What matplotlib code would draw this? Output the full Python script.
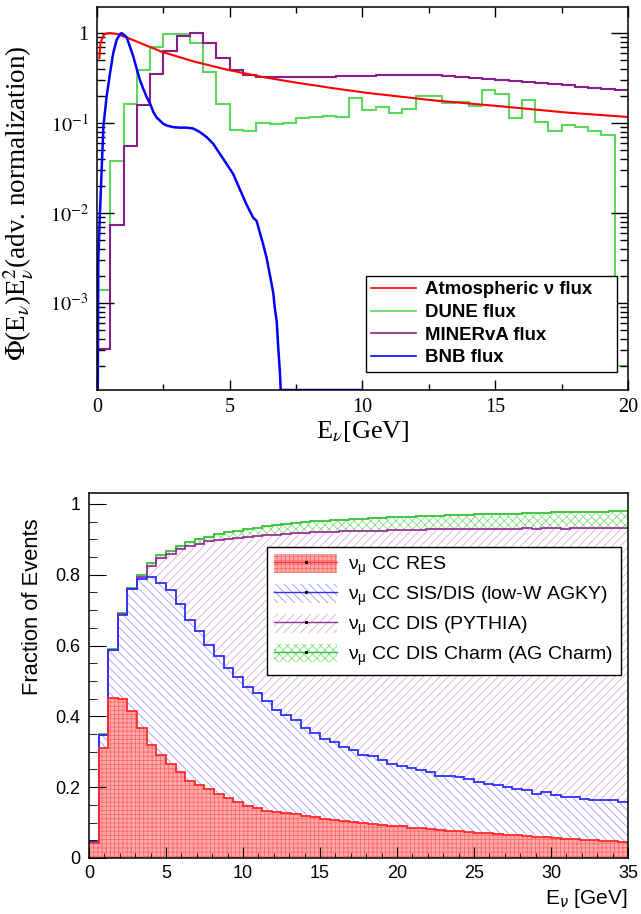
import numpy as np
import matplotlib
matplotlib.use('Agg')
import matplotlib.pyplot as plt
from matplotlib.lines import Line2D
from matplotlib.patches import Patch
from matplotlib.ticker import MultipleLocator, LogLocator, FuncFormatter, NullFormatter

plt.rcParams['font.family'] = ['Liberation Sans', 'DejaVu Sans']
plt.rcParams['hatch.linewidth'] = 0.6

# ---- flux panel (0.5 GeV bins, 0-20 GeV) ----
flux_edges = np.linspace(0, 20, 41)
dune_flux = [1.4e-3, 0.038, 0.165, 0.39, 0.71, 0.99, 0.99, 0.773, 0.372, 0.165,
             0.083, 0.081, 0.101, 0.097, 0.101, 0.113, 0.117, 0.119, 0.116, 0.190,
             0.139, 0.151, 0.131, 0.144, 0.199, 0.199, 0.169, 0.172, 0.154, 0.236,
             0.209, 0.114, 0.179, 0.103, 0.081, 0.096, 0.090, 0.081, 0.073, 2.0e-4]
minerva_flux = [3.1e-4, 7.4e-3, 0.055, 0.160, 0.348, 0.634, 0.933, 1.0, 0.773, 0.525,
                0.389, 0.342, 0.327, 0.322, 0.322, 0.323, 0.325, 0.325, 0.330, 0.336,
                0.336, 0.342, 0.345, 0.345, 0.339, 0.339, 0.333, 0.327, 0.319, 0.311,
                0.301, 0.295, 0.288, 0.278, 0.271, 0.264, 0.255, 0.246, 0.240, 0.236]
bnb_energy = [0.03, 0.05, 0.11, 0.24, 0.36, 0.49, 0.61, 0.74, 0.87, 0.93, 0.99, 1.12,
              1.24, 1.37, 1.49, 1.62, 1.74, 1.87, 2.0, 2.12, 2.25, 2.38, 2.5, 2.63,
              2.88, 3.13, 3.38, 3.63, 3.88, 4.13, 4.38, 4.63, 4.88, 5.13, 5.38, 5.63,
              5.88, 6.01, 6.26, 6.39, 6.51, 6.64, 6.70, 6.77, 6.83, 6.89, 6.92, 10.0]
bnb_flux = [0.0, 3.0e-3, 0.0097, 0.090, 0.195, 0.357, 0.597, 0.84, 0.98, 1.0, 0.97, 0.90,
            0.708, 0.548, 0.406, 0.30, 0.242, 0.195, 0.165, 0.133, 0.115, 0.106, 0.098, 0.094,
            0.090, 0.089, 0.089, 0.087, 0.0794, 0.0699, 0.0588, 0.0455, 0.0352, 0.0272, 0.0184, 0.0125,
            0.0089, 0.0082, 0.00448, 0.00317, 0.00207, 0.00129, 8.7e-4, 6.2e-4, 3.1e-4, 1.7e-4, 0.0, 0.0]
atm_energy = [0.09, 0.13, 0.25, 0.38, 0.5, 0.75, 1.18, 2.44, 3.69, 4.94, 6.2, 7.46,
              8.95, 10.16, 12.67, 15.18, 17.69, 20.0]
atm_flux = [0.525, 0.77, 0.957, 0.995, 1.0, 0.98, 0.88, 0.62, 0.48, 0.39, 0.327, 0.283,
            0.243, 0.217, 0.179, 0.154, 0.131, 0.117]

# ---- fraction panel (0.625 GeV bins, 0-35 GeV) ----
frac_edges = np.linspace(0, 35, 57)
res_frac = [0.041, 0.311, 0.452, 0.448, 0.414, 0.366, 0.319, 0.290, 0.265, 0.242,
            0.218, 0.206, 0.194, 0.180, 0.169, 0.157, 0.148, 0.140, 0.133, 0.130,
            0.127, 0.123, 0.119, 0.115, 0.111, 0.107, 0.104, 0.102, 0.099, 0.096,
            0.093, 0.091, 0.089, 0.086, 0.085, 0.083, 0.080, 0.077, 0.076, 0.073,
            0.071, 0.070, 0.068, 0.066, 0.064, 0.062, 0.060, 0.058, 0.056, 0.055,
            0.053, 0.051, 0.050, 0.049, 0.047, 0.045]
sis_frac = [0.005, 0.036, 0.136, 0.239, 0.346, 0.421, 0.474, 0.488, 0.492, 0.476,
            0.454, 0.434, 0.407, 0.390, 0.369, 0.354, 0.334, 0.325, 0.310, 0.289,
            0.276, 0.266, 0.249, 0.238, 0.226, 0.221, 0.210, 0.202, 0.191, 0.192,
            0.185, 0.174, 0.170, 0.167, 0.163, 0.160, 0.152, 0.155, 0.153, 0.149,
            0.144, 0.139, 0.138, 0.135, 0.132, 0.130, 0.122, 0.129, 0.123, 0.118,
            0.120, 0.117, 0.115, 0.115, 0.117, 0.112]
dis_frac = [0.000, 0.001, 0.000, 0.003, 0.001, 0.006, 0.033, 0.070, 0.102, 0.155,
            0.208, 0.247, 0.294, 0.327, 0.363, 0.393, 0.425, 0.444, 0.468, 0.494,
            0.512, 0.528, 0.550, 0.567, 0.584, 0.594, 0.609, 0.619, 0.634, 0.637,
            0.647, 0.661, 0.667, 0.674, 0.679, 0.685, 0.696, 0.697, 0.699, 0.707,
            0.714, 0.721, 0.723, 0.729, 0.734, 0.739, 0.748, 0.744, 0.752, 0.757,
            0.758, 0.764, 0.766, 0.768, 0.768, 0.774]
charm_frac = [0.001, 0.001, 0.002, 0.002, 0.003, 0.005, 0.008, 0.007, 0.008, 0.009,
              0.013, 0.013, 0.012, 0.017, 0.019, 0.020, 0.022, 0.024, 0.026, 0.028,
              0.029, 0.029, 0.031, 0.031, 0.032, 0.033, 0.033, 0.034, 0.034, 0.034,
              0.036, 0.036, 0.037, 0.037, 0.038, 0.038, 0.039, 0.039, 0.041, 0.041,
              0.042, 0.041, 0.043, 0.043, 0.043, 0.043, 0.045, 0.044, 0.045, 0.046,
              0.046, 0.045, 0.047, 0.046, 0.047, 0.048]

fig = plt.figure(figsize=(6.41, 9.14), dpi=100)

# ================= top: fluxes =================
ymin, ymax = 1.08e-4, 1.95
serif = ['Liberation Serif', 'DejaVu Serif']
ax1 = fig.add_axes([0.1513, 0.5733, 0.8284, 0.4190])
ax1.set_yscale('log')

def floor(v):
    # values under the axis minimum are drawn on the axis, as ROOT does
    return np.maximum(np.asarray(v, dtype=float), ymin)

ax1.plot(atm_energy, floor(atm_flux), color='#ff0000', lw=1.5, label=u'Atmospheric \u03bd flux')
ax1.stairs(floor(dune_flux), flux_edges, baseline=None, color='#5cd85c', lw=1.5, label='DUNE flux')
ax1.stairs(floor(minerva_flux), flux_edges, baseline=None, color='#8b1c8b', lw=1.5, label='MINERvA flux')
ax1.plot(bnb_energy, floor(bnb_flux), color='#0000ff', lw=1.8, label='BNB flux')

ax1.set_xlim(0, 20)
ax1.set_ylim(ymin, ymax)
ax1.xaxis.set_major_locator(MultipleLocator(5))
ax1.xaxis.set_minor_locator(MultipleLocator(2.5))
ax1.yaxis.set_major_locator(LogLocator(base=10, numticks=20))
ax1.yaxis.set_minor_locator(LogLocator(base=10, subs=np.arange(2, 10), numticks=20))
ax1.yaxis.set_minor_formatter(NullFormatter())
ax1.yaxis.set_major_formatter(FuncFormatter(
    lambda v, p: '1' if abs(v - 1) < 1e-9 else r'$10^{%d}$' % round(np.log10(v))))
ax1.tick_params(which='both', direction='in', top=True, right=True, width=1.0)
ax1.tick_params(axis='x', which='major', length=7.5, pad=6)
ax1.tick_params(axis='x', which='minor', length=4)
ax1.tick_params(axis='y', which='major', length=12, pad=6)
ax1.tick_params(axis='y', which='minor', length=6)
for lab in ax1.get_xticklabels() + ax1.get_yticklabels():
    lab.set_fontfamily(serif)
    lab.set_fontsize(14.5)
    lab.set_math_fontfamily('stix')
for sp in ax1.spines.values():
    sp.set_linewidth(1.1)

ax1.set_xlabel(r'E$_{\nu}$[GeV]', family=serif, fontsize=19, math_fontfamily='stix', labelpad=1)
ax1.set_ylabel(r'$\Phi$(E$_{\nu}$)E$_{\nu}^{2}$(adv. normalization)', family=serif,
               fontsize=19.5, math_fontfamily='stix', labelpad=2)
ax1.yaxis.set_label_coords(-0.115, 0.488)

leg1 = ax1.legend(loc='upper left', bbox_to_anchor=(0.506, 0.0436, 0.474, 0.2545), mode='expand',
                  borderaxespad=0, fancybox=False, edgecolor='black', framealpha=1,
                  prop={'family': 'Liberation Sans', 'weight': 'bold', 'size': 13.4},
                  handlelength=2.4, handletextpad=0.5, labelspacing=0.3, borderpad=0.3)
leg1.get_frame().set_linewidth(1.0)
for ln in leg1.get_lines():
    ln.set_linewidth(1.2)

# ================= bottom: event fractions =================
ax2 = fig.add_axes([0.1388, 0.0613, 0.8409, 0.3993])

layers = [
    (res_frac, '#ffaaaa', '#ff6a6a', '++++', '#ff2a2a',
     r'$\mathregular{\nu_{\mu}}$ CC RES'),
    (sis_frac, 'none', '#9a9aff', '\\\\\\\\', '#2f2fff',
     r'$\mathregular{\nu_{\mu}}$ CC SIS/DIS (low-W AGKY)'),
    (dis_frac, 'none', '#dcaadc', '////', '#993399',
     r'$\mathregular{\nu_{\mu}}$ CC DIS (PYTHIA)'),
    (charm_frac, 'none', '#80e080', 'xxxx', '#33c433',
     r'$\mathregular{\nu_{\mu}}$ CC DIS Charm (AG Charm)'),
]

bottom = np.zeros(len(res_frac))
tops = []
handles = []
labels = []
for vals, fc, hc, hatch, lc, lab in layers:
    top = bottom + np.asarray(vals)
    ax2.stairs(top, frac_edges, baseline=bottom, fill=True, facecolor=fc,
               edgecolor=hc, hatch=hatch, lw=0)
    patch = Patch(facecolor=fc, edgecolor=hc, hatch=hatch, lw=0)
    handles.append((patch, Line2D([], [], color=lc, lw=1.0, marker='s', markersize=1.2,
                                  markerfacecolor='k', markeredgecolor='k')))
    labels.append(lab)
    tops.append(top)
    bottom = top

# outlines, upper layers first so the lower ones stay visible
for top, layer in reversed(list(zip(tops, layers))):
    ax2.stairs(top, frac_edges, baseline=None, color=layer[4], lw=1.3)

ax2.set_xlim(0, 35)
ax2.set_ylim(0, 1.031)
ax2.xaxis.set_major_locator(MultipleLocator(5))
ax2.xaxis.set_minor_locator(MultipleLocator(1))
ax2.yaxis.set_major_locator(MultipleLocator(0.2))
ax2.yaxis.set_minor_locator(MultipleLocator(0.05))
ax2.yaxis.set_major_formatter(FuncFormatter(lambda v, p: '%g' % round(v, 2)))
ax2.tick_params(which='both', direction='in', labelsize=13)
ax2.tick_params(axis='x', which='major', length=8, pad=5)
ax2.tick_params(axis='x', which='minor', length=3.6)
ax2.tick_params(axis='y', which='major', length=12, pad=6)
ax2.tick_params(axis='y', which='minor', length=6)
for sp in ax2.spines.values():
    sp.set_linewidth(1.1)

ax2.set_xlabel(r'E$_{\nu}$ [GeV]', fontsize=15, loc='right', labelpad=4)
ax2.set_ylabel('Fraction of Events', fontsize=15.8, loc='top')
ax2.yaxis.set_label_coords(-0.085, 0.93)

leg2 = ax2.legend(handles, labels, loc='upper left', bbox_to_anchor=(0.3297, 0.513, 0.657, 0.34),
                  mode='expand', borderaxespad=0, fancybox=False, edgecolor='black',
                  framealpha=1, prop={'family': 'Liberation Sans', 'size': 14},
                  handlelength=3.2, handleheight=1.1, handletextpad=0.57,
                  labelspacing=0.3, borderpad=0.4)
leg2.get_frame().set_linewidth(1.0)

fig.savefig('out.png', dpi=100)
